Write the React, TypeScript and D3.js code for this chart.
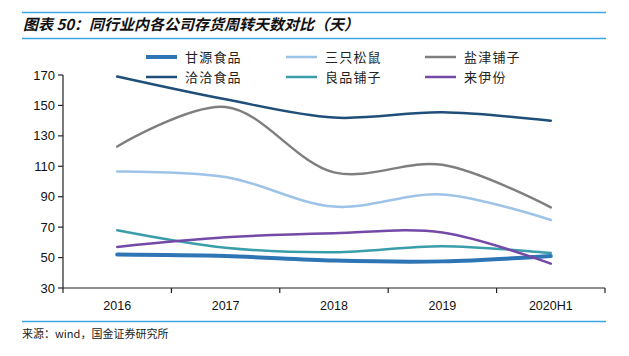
import React from "react";
import * as d3 from "d3";

const categories = ["2016", "2017", "2018", "2019", "2020H1"];
const seriesNames = ["甘源食品", "三只松鼠", "盐津铺子", "洽洽食品", "良品铺子", "来伊份"];
const ganyuan = [52, 51, 48, 47.5, 51];
const sanzhi = [106.5, 103, 83.5, 91.5, 74.7];
const yanjin = [123, 149, 106, 111, 83];
const qiaqia = [169, 154, 142, 145.5, 140];
const liangpin = [68, 56.5, 53.5, 57.5, 53];
const laiyifen = [57, 63.3, 66, 66.5, 46];
const yTicks = [30, 50, 70, 90, 110, 130, 150, 170];

const seriesValues = [ganyuan, sanzhi, yanjin, qiaqia, liangpin, laiyifen];
const colors = ["#2E75B6", "#9DC3E6", "#7F7F7F", "#1F4E79", "#3A9EAA", "#7549A8"];
const widths = [4, 2.5, 2.5, 2.5, 2.5, 2.5];

export default function App() {
  const W = 629, H = 356;
  const x0 = 63, x1 = 605, yTop = 75, yBot = 288;
  const x = d3.scaleBand().domain(categories).range([x0, x1]);
  const y = d3.scaleLinear().domain([30, 170]).range([yBot, yTop]);
  const line = d3
    .line<number>()
    .x((_, i) => (x(categories[i]) as number) + x.bandwidth() / 2)
    .y((d) => y(d))
    .curve(d3.curveCatmullRom.alpha(0.5));
  const legendPos = [
    [146, 57], [286, 57], [425, 57],
    [146, 77], [286, 77], [425, 77],
  ];
  const font = "'Liberation Sans', Arial, sans-serif";
  const cjk = "'Noto Sans CJK SC', sans-serif";
  const boundaries = categories.map((c) => x(c) as number).concat([x1]);
  return (
    <svg width={W} height={H} style={{ position: "absolute", left: 0, top: 0 }}>
      <rect width={W} height={H} fill="#fff" />
      <line x1={22} x2={606} y1={12.5} y2={12.5} stroke="#3DA5E3" strokeWidth={1.5} />
      <text x={23} y={30} fontFamily={cjk} fontSize={15} fontWeight="bold" fontStyle="italic" fill="#111">
        图表 50：同行业内各公司存货周转天数对比（天）
      </text>
      <line x1={22} x2={606} y1={38.5} y2={38.5} stroke="#3DA5E3" strokeWidth={1.5} />

      {legendPos.map(([lx, ly], i) => (
        <g key={i}>
          <line x1={lx} x2={lx + 31} y1={ly} y2={ly} stroke={colors[i]} strokeWidth={widths[i]} />
          <text x={lx + 39} y={ly + 4.5} fontFamily={cjk} fontSize={13} letterSpacing={1.2} fill="#222">
            {seriesNames[i]}
          </text>
        </g>
      ))}

      <line x1={x0} x2={x0} y1={yTop} y2={yBot} stroke="#222" strokeWidth={1.2} />
      {yTicks.map((t) => (
        <g key={t}>
          <line x1={x0 - 5} x2={x0} y1={y(t)} y2={y(t)} stroke="#222" strokeWidth={1.2} />
          <text x={x0 - 8} y={y(t) + 4.5} textAnchor="end" fontFamily={font} fontSize={13} fill="#111">
            {t}
          </text>
        </g>
      ))}
      <line x1={x0} x2={x1} y1={yBot} y2={yBot} stroke="#222" strokeWidth={1.2} />
      {boundaries.map((b, i) => (
        <line key={i} x1={b} x2={b} y1={yBot} y2={yBot + 5} stroke="#222" strokeWidth={1.2} />
      ))}
      {categories.map((c) => (
        <text key={c} x={(x(c) as number) + x.bandwidth() / 2} y={310} textAnchor="middle" fontFamily={font} fontSize={12.5} fill="#111">
          {c}
        </text>
      ))}

      {seriesValues.map((vals, i) => (
        <path key={i} d={line(vals) || ""} fill="none" stroke={colors[i]} strokeWidth={widths[i]} strokeLinecap="round" />
      ))}

      <line x1={22} x2={606} y1={321.5} y2={321.5} stroke="#3DA5E3" strokeWidth={1.5} />
      <text x={22} y={338} fontFamily={cjk} fontSize={11} fill="#222">
        来源：wind，国金证券研究所
      </text>
    </svg>
  );
}
